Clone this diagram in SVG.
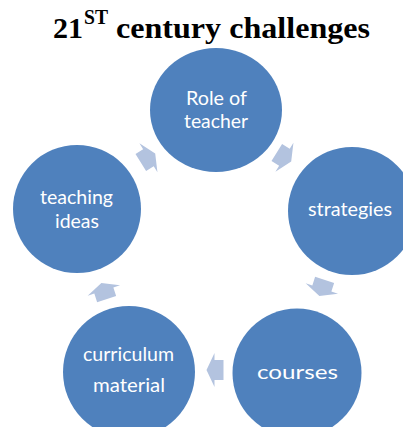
<svg xmlns="http://www.w3.org/2000/svg" width="403" height="427" viewBox="0 0 403 427">
<style>
.node{fill:#4f81bd;}
.lbl{fill:#ffffff;font-family:Lato,"Open Sans","DejaVu Sans",sans-serif;font-size:20px;text-anchor:middle;}
.arr{fill:#b3c3df;}
.title{font-family:"Liberation Serif","Times New Roman",serif;font-weight:bold;fill:#000;}
</style>
<defs>
<path id="arrow" d="M-8.5,-10 H0.5 V-17 L8.5,0 L0.5,17 V10 H-8.5 Z"/>
</defs>
<rect width="403" height="427" fill="#ffffff"/>
<g id="title">
<text class="title" x="53" y="38" font-size="30" textLength="30" lengthAdjust="spacingAndGlyphs">21</text>
<text class="title" x="84" y="24" font-size="20" textLength="24" lengthAdjust="spacingAndGlyphs">ST</text>
<text class="title" x="116" y="38" font-size="30" textLength="254" lengthAdjust="spacingAndGlyphs">century challenges</text>
</g>
<g id="connectors">
<use href="#arrow" class="arr" transform="translate(284,157) rotate(32)"/>
<use href="#arrow" class="arr" transform="translate(322,288) rotate(108)"/>
<use href="#arrow" class="arr" transform="translate(215,370) rotate(180)"/>
<use href="#arrow" class="arr" transform="translate(104,291) rotate(252)"/>
<use href="#arrow" class="arr" transform="translate(148,158) rotate(328)"/>
</g>
<g id="node-role">
<ellipse class="node" cx="216" cy="110" rx="66" ry="62"/>
<text class="lbl" x="216.5" y="105" textLength="61" lengthAdjust="spacingAndGlyphs">Role of</text>
<text class="lbl" x="216" y="128" textLength="64" lengthAdjust="spacingAndGlyphs">teacher</text>
</g>
<g id="node-strategies">
<circle class="node" cx="352" cy="211" r="64"/>
<text class="lbl" x="350" y="216" textLength="84" lengthAdjust="spacingAndGlyphs">strategies</text>
</g>
<g id="node-courses">
<circle class="node" cx="297" cy="373" r="64.5"/>
<text class="lbl" x="297.5" y="379" font-size="28" textLength="81" lengthAdjust="spacingAndGlyphs">courses</text>
</g>
<g id="node-curriculum">
<circle class="node" cx="129" cy="372" r="66"/>
<text class="lbl" x="128.5" y="361" textLength="91" lengthAdjust="spacingAndGlyphs">curriculum</text>
<text class="lbl" x="129" y="392" textLength="72" lengthAdjust="spacingAndGlyphs">material</text>
</g>
<g id="node-teaching">
<circle class="node" cx="77" cy="209" r="64"/>
<text class="lbl" x="76.5" y="204" textLength="73" lengthAdjust="spacingAndGlyphs">teaching</text>
<text class="lbl" x="77" y="228" textLength="44" lengthAdjust="spacingAndGlyphs">ideas</text>
</g>
</svg>
